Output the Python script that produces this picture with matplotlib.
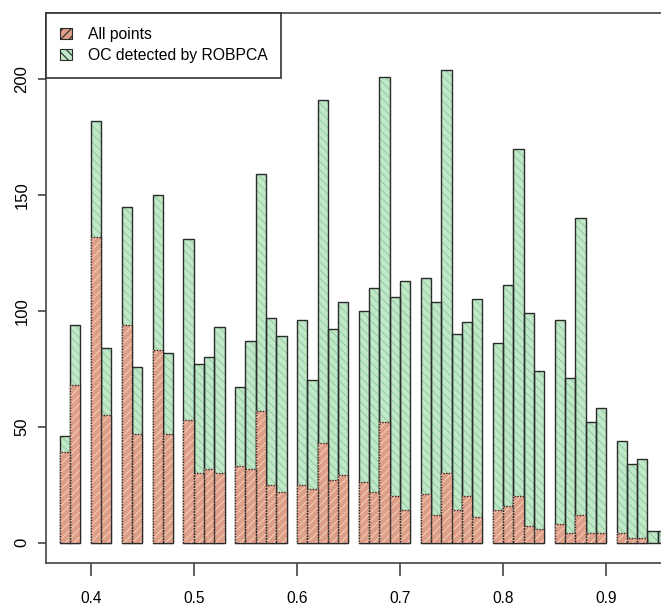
import matplotlib
matplotlib.use('Agg')
import matplotlib.pyplot as plt
from matplotlib.patches import Patch
import numpy as np

# bin left edges, width 0.01
bin_left = np.round(np.arange(0.37, 0.955, 0.01), 2)
oc_counts = [46, 94, 0, 182, 84, 0, 145, 76, 0, 150, 82, 0,
             131, 77, 80, 93, 0, 67, 87, 159, 97, 89, 0,
             96, 70, 191, 92, 104, 0, 100, 110, 201, 106, 113, 0,
             114, 104, 204, 90, 95, 105, 0, 86, 111, 170, 99, 74, 0,
             96, 71, 140, 52, 58, 0, 44, 34, 36, 5, 5]
all_counts = [39, 68, 0, 132, 55, 0, 94, 47, 0, 83, 47, 0,
              53, 30, 32, 30, 0, 33, 32, 57, 25, 22, 0,
              25, 23, 43, 27, 29, 0, 26, 22, 52, 20, 14, 0,
              21, 12, 30, 14, 20, 11, 0, 14, 16, 20, 7, 6, 0,
              8, 4, 12, 4, 4, 0, 4, 2, 2, 0, 0]
xticks = [0.4, 0.5, 0.6, 0.7, 0.8, 0.9]
yticks = [0, 50, 100, 150, 200]
labels = ['All points', 'OC detected by ROBPCA']

green, green_h = '#c0e8c8', '#93d0a2'
red, red_h = '#de9f88', '#f2cbb5'
edge = '#2a2a2a'
fam = ['Liberation Sans', 'DejaVu Sans']

plt.rcParams['hatch.linewidth'] = 0.8
W, H = 661, 608
fig = plt.figure(figsize=(W / 100, H / 100), dpi=100)
# axes in pixel coords: left 46, top 13, bottom 563, right runs off the canvas
ax = fig.add_axes([46 / W, (H - 563) / H, (700 - 46) / W, (563 - 13) / H])

# green (OC) bars, then red (all points) on top
oc = [c if c > 0 else np.nan for c in oc_counts]
al = [c if c > 0 else np.nan for c in all_counts]
ax.bar(bin_left, oc, width=0.01, align='edge', color=green,
       edgecolor=green_h, hatch='\\\\\\\\', linewidth=0)
ax.bar(bin_left, oc, width=0.01, align='edge', fill=False,
       edgecolor=edge, linewidth=1.0)
ax.bar(bin_left, al, width=0.01, align='edge', color=red,
       edgecolor=red_h, hatch='////', linewidth=0)
ax.bar(bin_left, al, width=0.01, align='edge', fill=False,
       edgecolor=edge, linewidth=1.0, linestyle=(0, (1, 1)))

ax.set_xlim(0.35664, 0.4 + (700 - 90.7) / 1031)
ax.set_ylim(-8.76, 228.5)

for s in ax.spines.values():
    s.set_color('#444444')
    s.set_linewidth(1.2)

ax.set_xticks(xticks)
ax.set_xticklabels([str(t) for t in xticks], family=fam, fontsize=11.2)
ax.set_yticks(yticks)
ax.set_yticklabels([str(t) for t in yticks], family=fam,
                   fontsize=12, rotation=90, va='center')
ax.tick_params(axis='x', length=9, width=1.2, color='#444444', pad=11)
ax.tick_params(axis='y', length=6, width=1.2, color='#444444', pad=6)

handles = [Patch(facecolor=red, edgecolor=edge, hatch='////', linewidth=0.8),
           Patch(facecolor=green, edgecolor=edge, hatch='\\\\\\\\', linewidth=0.8)]
leg = ax.legend(handles, labels, loc='upper left', bbox_to_anchor=(0, 1),
                borderaxespad=0, frameon=True, fancybox=False, framealpha=1,
                prop={'family': fam, 'size': 11.3}, handlelength=0.75,
                handleheight=0.7, handletextpad=1.0, borderpad=0.9,
                labelspacing=0.4)
leg.get_frame().set_edgecolor('#333333')
leg.get_frame().set_linewidth(1.2)

fig.savefig('out.png', dpi=100)
